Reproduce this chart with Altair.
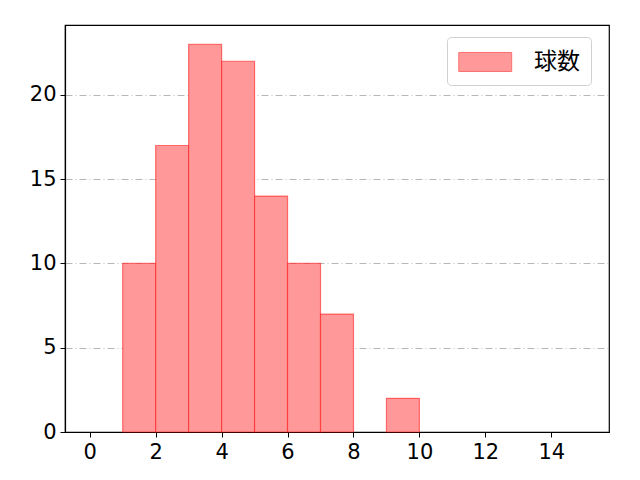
import altair as alt
import pandas as pd

bin_start = [1, 2, 3, 4, 5, 6, 7, 9]
bin_end = [2, 3, 4, 5, 6, 7, 8, 10]
counts = [10, 17, 23, 22, 14, 10, 7, 2]
series = ["球数"] * len(counts)

df = pd.DataFrame({"x": bin_start, "x2": bin_end, "y": counts, "s": series})

FONT = "Noto Sans CJK JP"
TICKFONT = "DejaVu Sans"

bars = alt.Chart(df).mark_rect(
    fillOpacity=1, stroke="#ff0000", strokeOpacity=0.5, strokeWidth=1.2
).encode(
    x=alt.X("x:Q", scale=alt.Scale(domain=[-0.75, 15.75], nice=False, zero=False),
            axis=alt.Axis(values=[0, 2, 4, 6, 8, 10, 12, 14], title=None, grid=False,
                          format="d")),
    x2="x2:Q",
    y=alt.Y("y:Q", scale=alt.Scale(domain=[0, 24.15], nice=False),
            axis=alt.Axis(values=[0, 5, 10, 15, 20], title=None, grid=True,
                          gridColor="#b0b0b0", gridDash=[7, 3, 1, 3], gridWidth=0.9)),
    y2=alt.datum(0),
    color=alt.Color("s:N", scale=alt.Scale(range=["#ff9999"]),
                    legend=alt.Legend(title=None, orient="none", legendX=382, legendY=12,
                                      symbolType="M-1,-0.72H3V0.72H-1Z", symbolSize=700,
                                      symbolStrokeColor="#ff7070",
                                      symbolOpacity=1, symbolStrokeWidth=1,
                                      labelFontSize=23, labelFont=FONT, labelColor="#000",
                                      labelOffset=48, padding=11,
                                      fillColor="white", strokeColor="#d0d0d0",
                                      cornerRadius=4)),
)

chart = bars.properties(
    width=544, height=407,
    autosize=alt.AutoSizeParams(type="none"),
    padding={"left": 57, "top": 17, "right": 23, "bottom": 48},
).configure_view(
    stroke="#000", strokeWidth=1.2
).configure_axis(
    labelFont=TICKFONT, labelFontSize=21, labelColor="#000",
    tickColor="#000", tickSize=5, tickWidth=1, domainColor="#000", domainWidth=1.2,
    labelPadding=4,
)

chart.save("out.html", embed_options={"renderer": "svg", "actions": False})
